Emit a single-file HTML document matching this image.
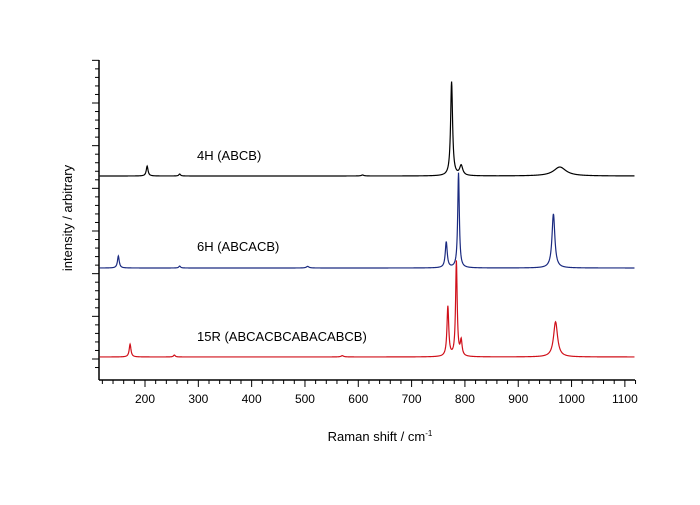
<!DOCTYPE html>
<html><head><meta charset="utf-8"><style>
body{margin:0;background:#fff;}
svg text{font-family:"Liberation Sans",Arial,sans-serif;}
</style></head><body>
<svg id="chart" width="700" height="500" xmlns="http://www.w3.org/2000/svg">
<g id="axes"></g>
<g id="series"></g>
<text x="197" y="160" font-size="13">4H (ABCB)</text>
<text x="197" y="251" font-size="13">6H (ABCACB)</text>
<text x="197" y="341" font-size="13">15R (ABCACBCABACABCB)</text>
<text x="380" y="441" font-size="13" text-anchor="middle">Raman shift / cm<tspan font-size="8" dy="-5">-1</tspan></text>
<text transform="translate(72,218) rotate(-90)" font-size="13" text-anchor="middle">intensity / arbitrary</text>
</svg>
<script>
const xTickLabels = [200,300,400,500,600,700,800,900,1000,1100];
const seriesNames = ["4H","6H","15R"];
const seriesColors = ["#000000","#1a2a80","#d0101a"];
const baselines = [63.75, 35, 7.2];
// peaks: [center cm-1, height, half-width]
const peaks4H = [[204,3.1,2],[265,0.6,2],[608,0.3,3],[775,29.4,2.2],[793,3.1,3.5],[978,2.8,14]];
const peaks6H = [[150,3.75,2],[265,0.6,2],[505,0.5,3],[765,8.1,2.2],[788,29.7,1.8],[966,16.9,3.2]];
const peaks15R = [[172,4,2],[255,0.6,2],[570,0.4,3],[768,15.6,2],[784,29.7,1.8],[793,4.7,2],[970,11,4.5]];
const allPeaks = [peaks4H, peaks6H, peaks15R];

const NS="http://www.w3.org/2000/svg";
const X0=113.7, X1=1119, PX0=99, PX1=635;
const PY0=380, PY1=60;
function xs(v){return PX0+(v-X0)/(X1-X0)*(PX1-PX0);}
function ys(v){return PY0-v*3.2;}
function mk(tag,attrs,parent){const e=document.createElementNS(NS,tag);for(const k in attrs)e.setAttribute(k,attrs[k]);parent.appendChild(e);return e;}
const ax=document.getElementById('axes');
let l=mk('line',{x1:PX0,y1:PY1,x2:PX0,y2:PY0,stroke:'#000','stroke-width':1.5},ax);


l=mk('line',{x1:PX0,y1:PY0,x2:PX1,y2:PY0,stroke:'#000','stroke-width':1.5},ax);


// y ticks
for(let k=-2;k<=36;k++){
  const y=359-k*42.667/5;
  if(y<60||y>376)continue;
  const major=(k%5===0);
  const t=mk('line',{x1:PX0-(major?7:4),y1:y,x2:PX0,y2:y,stroke:'#000','stroke-width':1},ax);
  
  
}
// x ticks
for(let v=120;v<=1120;v+=20){
  const x=xs(v);const major=(v%100===0);
  const t=mk('line',{x1:x,y1:PY0,x2:x,y2:PY0+(major?7:4),stroke:'#000','stroke-width':1},ax);
  
  
}
xTickLabels.forEach(v=>{
  const t=mk('text',{x:xs(v),y:PY0+23,'font-size':12,'text-anchor':'middle'},ax);
  t.textContent=v;
  
  
});
const sg=document.getElementById('series');
allPeaks.forEach((pk,i)=>{
  let d='';
  for(let v=115;v<=1118;v+=0.5){
    let s=baselines[i];
    pk.forEach(p=>{const u=(v-p[0])/p[2];s+=p[1]/(1+u*u);});
    d+=(d?'L':'M')+xs(v).toFixed(2)+','+ys(s).toFixed(2);
  }
  const p=mk('path',{d:d,fill:'none',stroke:seriesColors[i],'stroke-width':1.2},sg);
  
  
});
</script>
</body></html>
